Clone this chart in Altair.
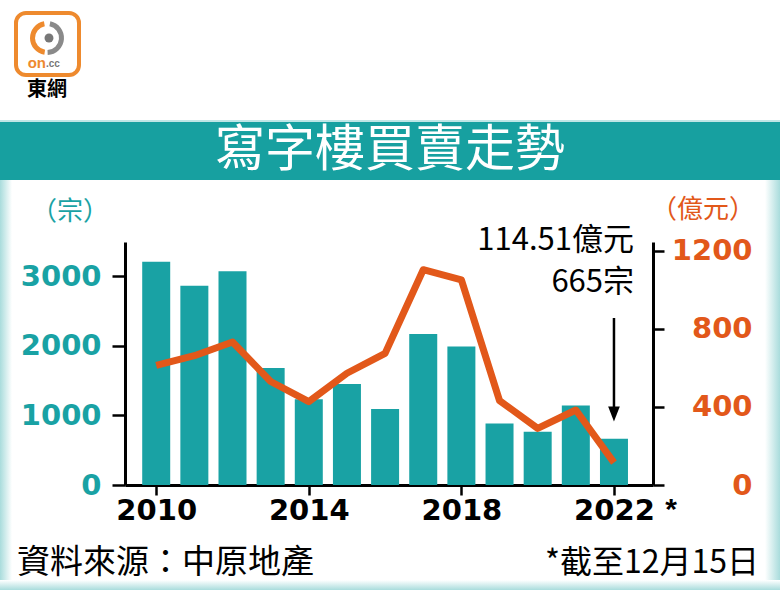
import altair as alt
import pandas as pd

years = [2010, 2011, 2012, 2013, 2014, 2015, 2016, 2017, 2018, 2019, 2020, 2021, 2022]
deals = [3205, 2860, 3070, 1680, 1230, 1450, 1090, 2170, 1990, 885, 765, 1140, 665]
amount = [612, 662, 732, 530, 427, 572, 674, 1102, 1050, 432, 290, 384, 114.51]

x_ticks = [2010, 2014, 2018, 2022]
left_ticks = [0, 1000, 2000, 3000]
right_ticks = [0, 400, 800, 1200]

TEAL = "#19a2a4"
ORANGE = "#e2581a"
CJK = "Noto Sans CJK TC"
LAT = "Liberation Sans"
NUM = "DejaVu Sans"

df = pd.DataFrame({"year": years, "deals": deals, "amount": amount})
one = alt.Data(values=[{"a": 1}])

xscale = alt.Scale(domain=[2009.313, 2022.892], nice=False, zero=False)

bars = alt.Chart(df).mark_bar(size=28, color=TEAL).encode(
    x=alt.X("year:Q", scale=xscale, title=None,
            axis=alt.Axis(values=x_ticks, format="d", labelFontSize=29, labelFont=NUM,
                          labelFontWeight="bold", labelColor="black", domainColor="black",
                          domainWidth=3, tickColor="black", tickWidth=2.5, tickSize=10,
                          labelPadding=1, grid=False, labelFlush=False)),
    y=alt.Y("deals:Q", scale=alt.Scale(domain=[0, 3490], nice=False), title=None,
            axis=alt.Axis(orient="left", values=left_ticks, format="d", labelFontSize=29,
                          labelFont=NUM, labelFontWeight="bold", labelColor=TEAL,
                          domainColor="black", domainWidth=3, tickColor="black",
                          tickWidth=2.5, tickSize=13, labelPadding=11, grid=False)),
)

line = alt.Chart(df).mark_line(color=ORANGE, strokeWidth=7, strokeJoin="round").encode(
    x=alt.X("year:Q", scale=xscale),
    y=alt.Y("amount:Q", scale=alt.Scale(domain=[0, 1244], nice=False), title=None,
            axis=alt.Axis(orient="right", values=right_ticks, format="d", labelFontSize=29,
                          labelFont=NUM, labelFontWeight="bold", labelColor=ORANGE,
                          labelAlign="right", domainColor="black", domainWidth=3,
                          tickColor="black", tickWidth=2.5, tickSize=11, labelPadding=88,
                          grid=False)),
)

def txt(s, x, y, size, color="black", align="center", weight="normal", font=CJK):
    return alt.Chart(one).mark_text(text=s, fontSize=size, color=color, align=align,
                                    baseline="middle", fontWeight=weight, font=font).encode(
        x=alt.value(x), y=alt.value(y))

def rect(x, x2, y, y2, **kw):
    return alt.Chart(one).mark_rect(**kw).encode(
        x=alt.value(x), x2=alt.value(x2), y=alt.value(y), y2=alt.value(y2))

edge = "#a9dcdc"
gl = alt.Gradient(gradient="linear", x1=0, x2=1, y1=0, y2=0,
                  stops=[alt.GradientStop(color=edge, offset=0), alt.GradientStop(color="white", offset=1)])
gr = alt.Gradient(gradient="linear", x1=0, x2=1, y1=0, y2=0,
                  stops=[alt.GradientStop(color="white", offset=0), alt.GradientStop(color=edge, offset=1)])
gb = alt.Gradient(gradient="linear", x1=0, x2=0, y1=0, y2=1,
                  stops=[alt.GradientStop(color="white", offset=0), alt.GradientStop(color=edge, offset=1)])

# origin of plot area is at (125, 242)
deco = [
    rect(-125, -113, -62, 348, color=gl),
    rect(640, 655, -62, 348, color=gr),
    rect(-125, 655, 338, 348, color=gb),
    rect(-125, 655, -121, -62, color="#17a0a0"),
    rect(-125, 655, -122, -120, color="#bfe6e6"),
    txt("寫字樓買賣走勢", 265, -91, 50, color="white"),
    # logo
    alt.Chart(one).mark_rect(cornerRadius=10, fill="white", stroke="#ee8a2e", strokeWidth=4).encode(
        x=alt.value(-109), x2=alt.value(-46), y=alt.value(-229), y2=alt.value(-167)),
    alt.Chart(one).mark_arc(radius=17, radius2=12, theta=3.3, theta2=6.1, color="#ee8a2e").encode(
        x=alt.value(-78), y=alt.value(-204)),
    alt.Chart(one).mark_arc(radius=17, radius2=12, theta=0.2, theta2=3.1, color="#8a8a8a").encode(
        x=alt.value(-78), y=alt.value(-204)),
    alt.Chart(one).mark_circle(size=80, color="#777777", opacity=1).encode(
        x=alt.value(-76), y=alt.value(-204)),
    txt("on", -79, -179, 15, color="#ee8a2e", align="right", weight="bold", font=LAT),
    txt(".cc", -79, -178, 10, color="#777777", align="left", weight="bold", font=LAT),
    txt("東網", -78, -152, 20, weight="bold"),
    # axis titles
    txt("（宗）", -55, -30, 26, color=TEAL),
    txt("（億元）", 578, -32, 26, color=ORANGE),
    # annotation
    txt("114.51億元", 509, -1, 31, align="right"),
    txt("665宗", 509, 41, 31, align="right"),
    txt("*", 546, 268, 30, weight="bold", font=LAT),
    # footer
    txt("資料來源：中原地產", -108, 321, 33, align="left"),
    txt("*截至12月15日", 634, 321, 32, align="right"),
]

arrow_df = pd.DataFrame({"year": [2022]})
arrow_line = alt.Chart(arrow_df).mark_rule(color="black", strokeWidth=2.5).encode(
    x=alt.X("year:Q", scale=xscale), y=alt.value(76), y2=alt.value(166))
arrow_head = alt.Chart(arrow_df).mark_point(shape="M-0.55,-0.7L0.55,-0.7L0,0.7Z", size=450,
                                            filled=True, color="black", opacity=1).encode(
    x=alt.X("year:Q", scale=xscale), y=alt.value(172))

chart = alt.layer(*deco[:6], bars, line, arrow_line, arrow_head, *deco[6:]).resolve_scale(
    y="independent"
).properties(
    width=528, height=243,
    padding={"left": 125, "top": 242, "right": 127, "bottom": 105},
    autosize=alt.AutoSizeParams(type="none"),
    background="white",
).configure_view(stroke=None)

chart.save("out.html", embed_options={"renderer": "svg", "actions": False})
